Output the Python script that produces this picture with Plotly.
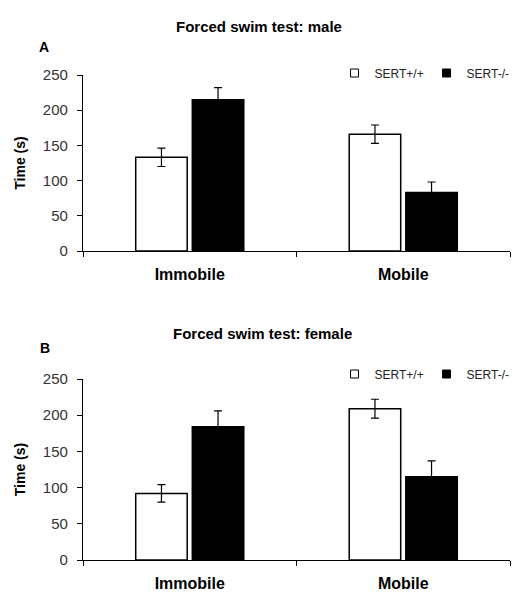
import plotly.graph_objects as go
from plotly.subplots import make_subplots

# Forced swim test: time spent immobile / mobile (s), mean ± SEM
categories = ["Immobile", "Mobile"]
genotypes = ["SERT+/+", "SERT-/-"]

male_wt = [133, 166]
male_wt_err = [13, 13]
male_ko = [215, 83]
male_ko_err = [17, 15]

female_wt = [92, 209]
female_wt_err = [12, 13]
female_ko = [184, 115]
female_ko_err = [22, 22]

y_ticks = [0, 50, 100, 150, 200, 250]

FONT = "Liberation Sans, Arial, sans-serif"
W, H = 519, 593
fills = ["white", "black"]

fig = make_subplots(rows=2, cols=1)

panels = [
    (1, male_wt, male_wt_err, male_ko, male_ko_err, "legend"),
    (2, female_wt, female_wt_err, female_ko, female_ko_err, "legend2"),
]
for row, wt, wt_err, ko, ko_err, leg in panels:
    for name, fill, vals, errs in [(genotypes[0], fills[0], wt, wt_err),
                                   (genotypes[1], fills[1], ko, ko_err)]:
        fig.add_trace(go.Bar(
            x=categories, y=vals, name=name, showlegend=False,
            marker=dict(color=fill, line=dict(color="black", width=1.5)),
            error_y=dict(type="data", array=errs, color="black", thickness=1.2, width=4),
        ), row=row, col=1)
    # compact square legend keys
    for name, fill in zip(genotypes, fills):
        fig.add_trace(go.Scatter(
            x=[None], y=[None], mode="markers", name=name, legend=leg,
            marker=dict(symbol="square", size=8, color=fill, line=dict(color="black", width=1)),
        ), row=row, col=1)

def py(px):
    return 1 - px / H

axis_common = dict(showline=True, linecolor="black", linewidth=1.2, ticks="outside",
                   tickcolor="black", ticklen=5, automargin=False, showgrid=False,
                   zeroline=False)

fig.update_xaxes(**axis_common, tickson="boundaries", range=[-0.5, 1.5],
                 tickfont=dict(family=FONT, size=16, color="black", weight="bold"),
                 ticklabelstandoff=9)
fig.update_yaxes(**axis_common, range=[0, 250], tickvals=y_ticks,
                 tickfont=dict(family=FONT, size=15, color="#333"),
                 ticklabelstandoff=6,
                 title=dict(text="<b>Time (s)</b>", standoff=13,
                            font=dict(family=FONT, size=14, color="black")))

leg_common = dict(orientation="h", x=1.02, xanchor="right", yanchor="middle",
                  font=dict(family=FONT, size=12, color="#222"), itemwidth=30,
                  entrywidth=47, entrywidthmode="pixels",
                  bgcolor="rgba(0,0,0,0)", tracegroupgap=0)

fig.update_layout(
    width=W, height=H,
    margin=dict(l=83, r=9, t=0, b=0),
    template="none",
    paper_bgcolor="white", plot_bgcolor="white",
    barmode="group", bargap=0.47, bargroupgap=0.09,
    yaxis=dict(domain=[py(251), py(75)]),
    yaxis2=dict(domain=[py(560), py(379)]),
    font=dict(family=FONT, color="black"),
    legend=dict(**leg_common, y=py(73)),
    legend2=dict(**leg_common, y=py(374)),
    showlegend=True,
)

texts = [
    ("<b>Forced swim test: male</b>", 259, 27, 15),
    ("<b>A</b>", 44, 47, 14),
    ("<b>Forced swim test: female</b>", 262, 333, 15),
    ("<b>B</b>", 45, 348, 14),
]
for txt, x, y, size in texts:
    fig.add_annotation(text=txt, x=(x - 83) / (W - 92), y=py(y), xref="paper", yref="paper",
                       xanchor="center", yanchor="middle", showarrow=False,
                       font=dict(family=FONT, size=size, color="black"))

fig.write_html("out.html")
